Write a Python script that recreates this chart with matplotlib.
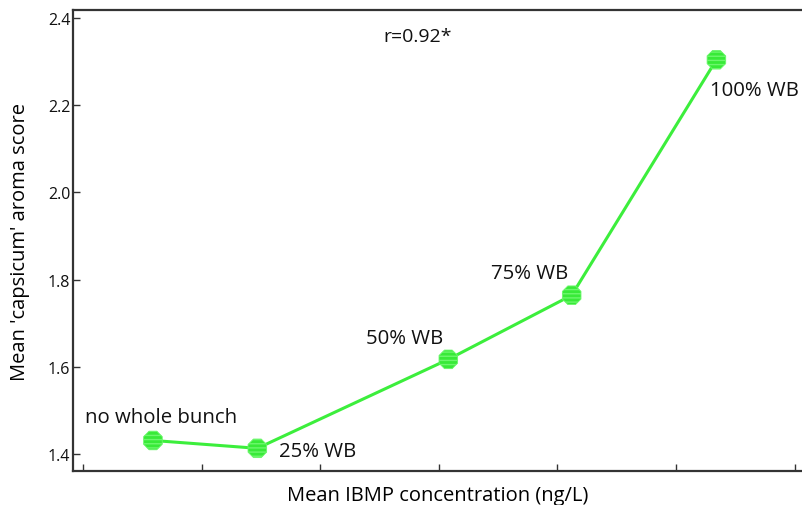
import matplotlib.pyplot as plt

plt.rcParams['font.family'] = ['Open Sans', 'DejaVu Sans']

# data
labels = ['no whole bunch', '25% WB', '50% WB', '75% WB', '100% WB']
ibmp = [0.59, 1.47, 3.08, 4.12, 5.34]
score = [1.431, 1.413, 1.617, 1.764, 2.304]
yticks = [1.4, 1.6, 1.8, 2.0, 2.2, 2.4]
xticks = [0, 1, 2, 3, 4, 5, 6]

# label offsets in points (dx, dy, ha)
offs = [(5.8, 16.6, 'center'), (15.8, -2.2, 'left'), (-31.7, 15.1, 'center'),
        (-30.2, 15.8, 'center'), (-4.3, -21.6, 'left')]

fig = plt.figure(figsize=(8.03, 5.06), dpi=100)
ax = fig.add_axes([0.0909, 0.0672, 0.9091, 0.9110])

green = '#3cee3c'
ax.plot(ibmp, score, color=green, lw=2.2, zorder=2)
ax.scatter(ibmp, score, s=210, marker='8', facecolor='#38ea38',
           edgecolor='#6cf76c', linewidths=0.6, hatch='----', zorder=3)

for lab, x, y, (dx, dy, ha) in zip(labels, ibmp, score, offs):
    ax.annotate(lab, (x, y), xytext=(dx, dy), textcoords='offset points',
                ha=ha, va='center', fontsize=14.7, color='#111111')

ax.text(0.4726, 0.9436, 'r=0.92*', transform=ax.transAxes, ha='center', va='center',
        fontsize=14, color='#111111')

ax.set_xlim(-0.084, 6.07)
ax.set_ylim(1.361, 2.418)
ax.set_xticks(xticks)
ax.set_xticklabels([])
ax.set_yticks(yticks)
ax.set_yticklabels(['%.1f' % v for v in yticks])
ax.tick_params(direction='in', length=5, width=1, color='#333333',
               labelsize=11.5, labelcolor='#111111', pad=2)

for s in ['left', 'bottom', 'top']:
    ax.spines[s].set_color('#333333')
    ax.spines[s].set_linewidth(1.6)
ax.spines['right'].set_visible(False)

ax.set_xlabel('Mean IBMP concentration (ng/L)', fontsize=14.5, labelpad=8)
ax.set_ylabel("Mean 'capsicum' aroma score", fontsize=14.5, labelpad=13)

fig.savefig('out.png', dpi=100)
